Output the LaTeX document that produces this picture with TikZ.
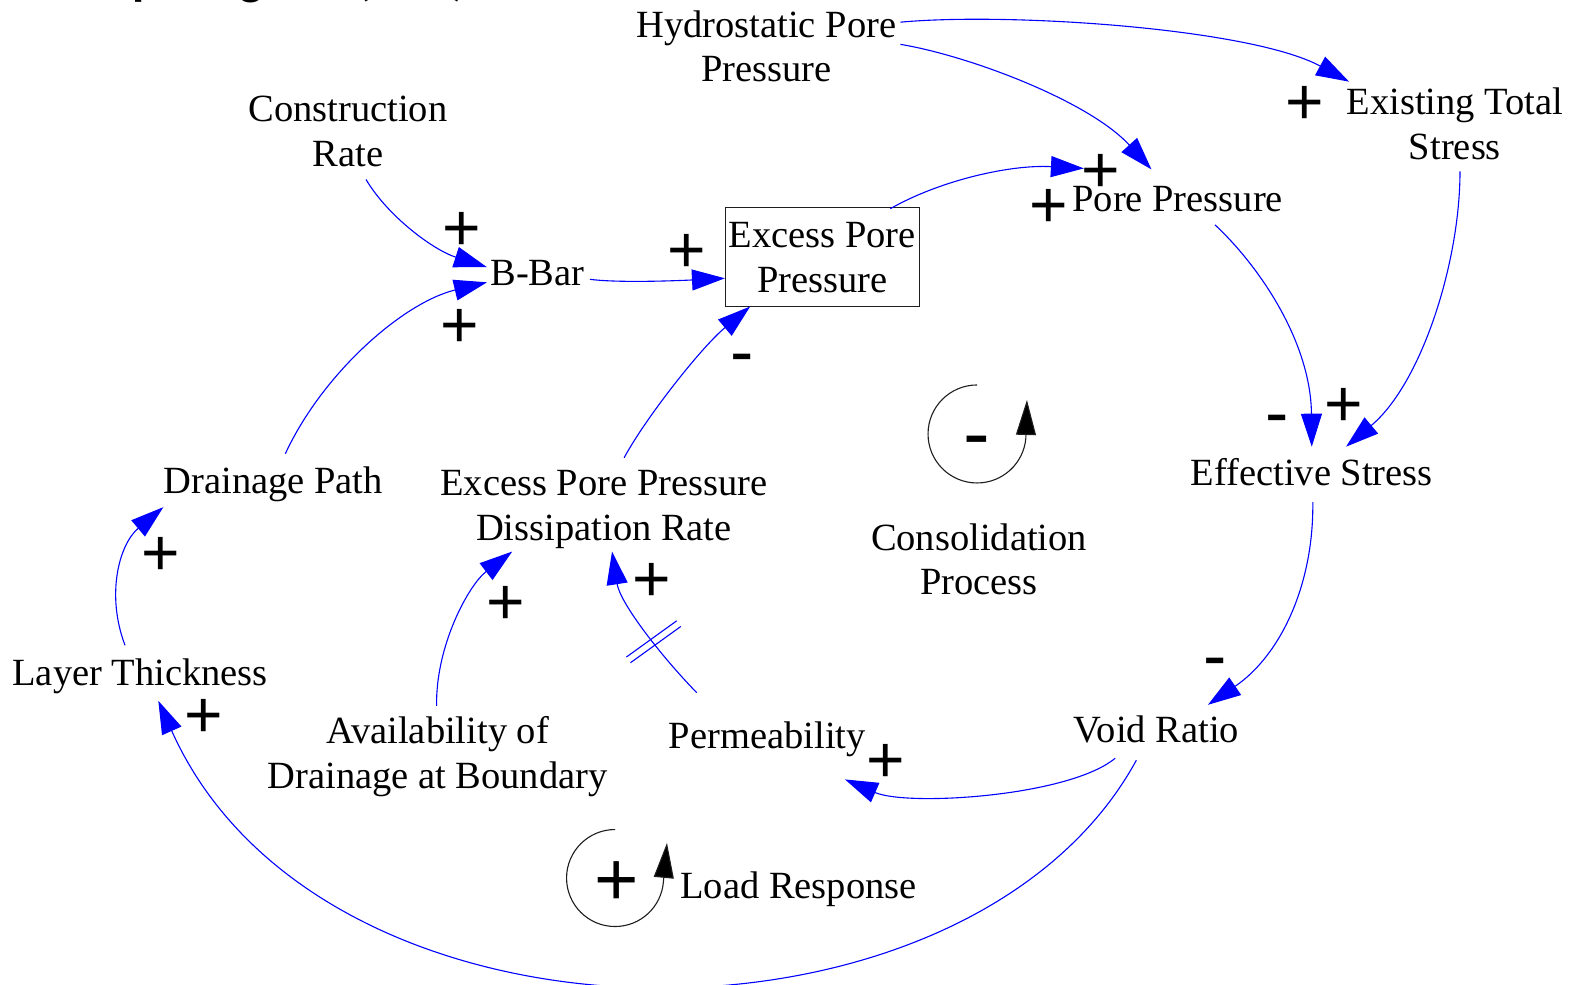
\documentclass[tikz,border=0pt]{standalone}
\usepackage{fontspec}
\setmainfont{Liberation Serif}
\newfontfamily\signfont{Liberation Sans}
\newfontfamily\headfont{Carlito}
\usetikzlibrary{arrows.meta,calc,decorations.markings}
\definecolor{linkblue}{RGB}{0,0,255}
\definecolor{loopgray}{RGB}{30,30,30}
\newcommand\cldfont{\rmfamily\fontsize{38.5}{44.5}\selectfont}
\newcommand\plusfont{\signfont\fontsize{66}{66}\selectfont}
\newcommand\minusfont{\signfont\fontsize{70}{70}\selectfont}
\newcommand\loopplusfont{\signfont\fontsize{76}{76}\selectfont}
\newcommand\loopminusfont{\signfont\fontsize{80}{80}\selectfont}
\tikzset{
  var/.style={font=\cldfont, align=center, inner sep=0pt},
  stock/.style={var, draw=loopgray, line width=1pt, minimum width=194pt, minimum height=98.5pt},
  link/.style={draw=linkblue, line width=1.1pt, -{Triangle[length=33pt,width=21pt]}},
  pos sign/.style={font=\plusfont, inner sep=0pt, yshift=-3.8pt},
  neg sign/.style={font=\minusfont, inner sep=0pt, yshift=-6.8pt},
  loop pos/.style={font=\loopplusfont, inner sep=0pt, yshift=-4.4pt},
  loop neg/.style={font=\loopminusfont, inner sep=0pt, yshift=-7.8pt},
  loopline/.style={draw=loopgray, line width=1.1pt},
  loophead/.style={-{Triangle[length=35pt,width=20pt,fill=black]}},
  delay/.style={postaction={decorate}, decoration={markings, mark=at position #1 with
    {\draw[-, linkblue, line width=1.1pt] (-3.5pt,-31pt) -- (-3.5pt,31pt) (3.5pt,-31pt) -- (3.5pt,31pt);}}},
}
\begin{document}
\begin{tikzpicture}[x=1.00829pt,y=-1.00829pt]
\useasboundingbox (0,0) rectangle (1568,976);

% heading, running off the top edge
\node[anchor=base east, inner sep=0pt, font=\headfont\bfseries\fontsize{50}{50}\selectfont] (heading) at (463,-5.5) {Causal Loop Diagram (CLD)};

% variables
\node[var] (hydro) at (760,50) {\strut Hydrostatic Pore\\\strut Pressure};
\node[var] (constr) at (345,134) {\strut Construction\\\strut Rate};
\node[var] (bbar) at (533,274) {\strut B-Bar};
\node[stock] (epp) at (815.5,255) {\rule{0pt}{39pt}Excess Pore\\\strut Pressure};
\node[var] (pore) at (1168,201) {\strut Pore Pressure};
\node[var] (exist) at (1443,127) {\strut Existing Total\\\strut Stress};
\node[var] (eff) at (1301,473) {\strut Effective Stress};
\node[var] (drain) at (271,481) {\strut Drainage Path};
\node[var] (diss) at (599,505) {\strut Excess Pore Pressure\\\strut Dissipation Rate};
\node[var] (cons) at (971,559) {\strut Consolidation\\\strut Process};
\node[var] (layer) at (139,671) {\strut Layer Thickness};
\node[var] (avail) at (434,751) {\strut Availability of\\\strut Drainage at Boundary};
\node[var] (perm) at (761,734) {\strut Permeability};
\node[var] (void) at (1147,728) {\strut Void Ratio};
\node[var] (load) at (792,882) {\strut Load Response};

% causal links
\draw[link] ($(hydro)+(133,-28)$) .. controls (1000,12) and (1240,28) .. ($(exist)+(-105,-46)$);
\draw[link] ($(hydro)+(133,-6)$) .. controls (960,55) and (1080,100) .. ($(pore)+(-26,-33)$);
\draw[link] ($(epp)+(67.5,-48)$) .. controls (930,180) and (1000,163) .. ($(pore)+(-93,-34)$);
\draw[link] ($(constr)+(18,44)$) .. controls (385,215) and (430,248) .. ($(bbar)+(-50,-9)$);
\draw[link] ($(drain)+(12,-31)$) .. controls (320,370) and (400,300) .. ($(bbar)+(-50,6)$);
\draw[link] ($(bbar)+(52,3)$) .. controls (615,281) and (680,278) .. ($(epp)+(-96.5,21)$);
\draw[link] ($(diss)+(20,-51)$) .. controls (640,415) and (695,345) .. ($(epp)+(-71.5,49)$);
\draw[link] ($(pore)+(37,22)$) .. controls (1250,265) and (1300,340) .. ($(eff)+(0,-30)$);
\draw[link] ($(exist)+(5,43)$) .. controls (1448,260) and (1410,380) .. ($(eff)+(34,-30)$);
\draw[link] ($(eff)+(1,25)$) .. controls (1303,580) and (1270,650) .. ($(void)+(51,-29)$);
\draw[link] ($(void)+(-41,24)$) .. controls (1060,790) and (900,800) .. ($(perm)+(77,39)$);
\draw[link] ($(void)+(-20,26)$) .. controls (960,1060) and (320,1060) .. ($(layer)+(18,24)$);
\draw[link] ($(layer)+(-15,-31)$) .. controls (105,590) and (118,540) .. ($(drain)+(-109,22)$);
\draw[link] ($(avail)+(-1,-51)$) .. controls (432,640) and (465,580) .. ($(diss)+(-91,42)$);
\draw[link, delay=0.4] ($(perm)+(-70,-47)$) .. controls (655,650) and (615,598) .. ($(diss)+(8,42)$);

% link polarities
\node[pos sign] (s1) at (1294,101) {+};
\node[pos sign] (s2) at (1092,168) {+};
\node[pos sign] (s3) at (1040,203) {+};
\node[pos sign] (s4) at (458,226) {+};
\node[pos sign] (s5) at (456,322) {+};
\node[pos sign] (s6) at (681,248) {+};
\node[neg sign] (s7) at (736,355) {-};
\node[neg sign] (s8) at (1267,416) {-};
\node[pos sign] (s9) at (1333,400) {+};
\node[neg sign] (s10) at (1205,657) {-};
\node[pos sign] (s11) at (159,548) {+};
\node[pos sign] (s12) at (202,709) {+};
\node[pos sign] (s13) at (502,597) {+};
\node[pos sign] (s14) at (646,574) {+};
\node[pos sign] (s15) at (878,753) {+};

% loop markers
\draw[loopline, loophead] (969,381.8) arc[start angle=-90, end angle=-355, radius=48.6] -- (1018.5,396.7);
\node[loop neg] (lneg) at (969,437) {-};
\draw[loopline, loophead] (610,822.7) arc[start angle=-90, end angle=-356, radius=48.1] -- (661.5,836);
\node[loop pos] (lpos) at (612,872) {+};
\end{tikzpicture}
\end{document}
